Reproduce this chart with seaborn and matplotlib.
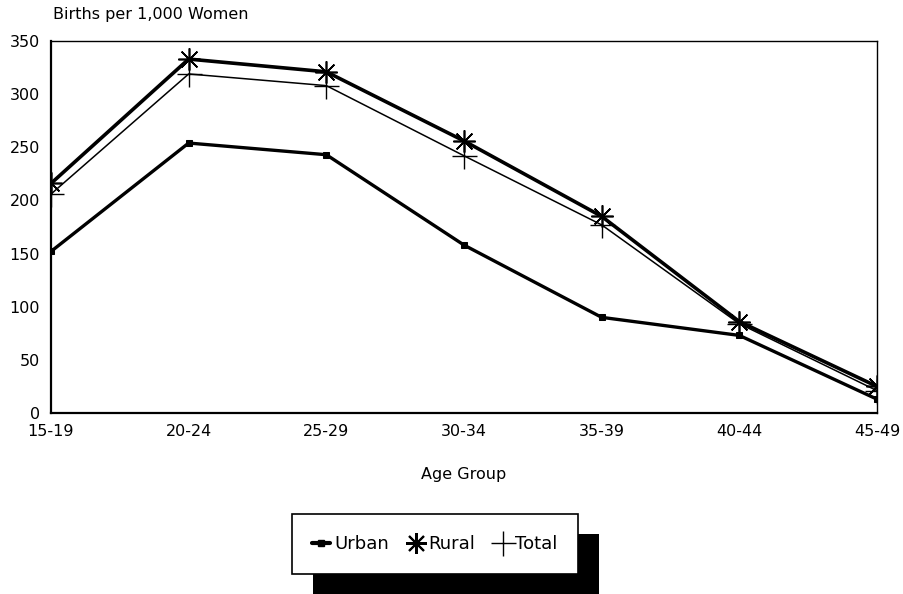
import pandas as pd
import matplotlib.pyplot as plt
import seaborn as sns
from matplotlib.lines import Line2D
from matplotlib.patches import Rectangle

# dados
grupos_idade = ['15-19', '20-24', '25-29', '30-34', '35-39', '40-44', '45-49']
urbano = [152, 254, 243, 158, 90, 73, 13]
rural = [216, 333, 321, 256, 185, 86, 25]
total = [206, 319, 308, 242, 177, 84, 21]

df = pd.DataFrame({'idade': grupos_idade, 'Urban': urbano, 'Rural': rural, 'Total': total})

sns.set_style('white')
plt.rcParams['font.family'] = ['DejaVu Sans']
plt.rcParams['text.color'] = 'black'
plt.rcParams['axes.labelcolor'] = 'black'

fig = plt.figure(figsize=(9.04, 5.94), dpi=100)
ax = fig.add_axes([51 / 904, 181 / 594, 826 / 904, 372 / 594])

estilos = {
    'Urban': dict(marker='s', markersize=5, linewidth=2.4),
    'Rural': dict(marker=(8, 2, 0), markersize=16, markeredgewidth=1.2, linewidth=2.6),
    'Total': dict(marker='+', markersize=18, markeredgewidth=1.0, linewidth=1.1),
}
for serie in ['Total', 'Urban', 'Rural']:
    sns.lineplot(data=df, x='idade', y=serie, ax=ax, color='black', sort=False,
                 markeredgecolor='black', markerfacecolor='black', **estilos[serie])

ax.set_xlim(0, len(grupos_idade) - 1)
ax.set_ylim(0, 350)
ax.set_yticks(range(0, 351, 50))
ax.set_xlabel('Age Group', fontsize=11.5, labelpad=20, color='black')
ax.set_ylabel('')
ax.tick_params(axis='both', labelsize=11.5, length=4, width=0.8, colors='black', pad=4)
ax.tick_params(axis='x', direction='out', pad=4)
ax.tick_params(axis='y', length=0, pad=8)

for lado, lw in [('left', 1.6), ('bottom', 1.6), ('top', 1.0), ('right', 1.0)]:
    ax.spines[lado].set_visible(True)
    ax.spines[lado].set_color('black')
    ax.spines[lado].set_linewidth(lw)

fig.text(53 / 904, 1 - 15 / 594, 'Births per 1,000 Women', ha='left', va='center',
         fontsize=11.5, color='black')

# legenda
handles = [
    Line2D([], [], color='black', linewidth=3, marker='s', markersize=4),
    Line2D([], [], color='black', linestyle='none', marker=(8, 2, 0), markersize=15, markeredgewidth=1.5),
    Line2D([], [], color='black', linestyle='none', marker='+', markersize=18, markeredgewidth=1.0),
]
leg = fig.legend(handles, ['Urban', 'Rural', 'Total'], loc='center',
                 bbox_to_anchor=(435 / 904, 1 - 544 / 594), ncol=3, fontsize=13,
                 frameon=True, fancybox=False, edgecolor='black', framealpha=1,
                 handlelength=1.0, handletextpad=0.2, columnspacing=1.0,
                 borderpad=1.15, borderaxespad=0)
leg.get_frame().set_linewidth(1.2)
for t in leg.get_texts():
    t.set_color('black')

# sombra preta da legenda
fig.canvas.draw()
bb = leg.get_window_extent().transformed(fig.transFigure.inverted())
dx, dy = 21 / 904, 20 / 594
fig.patches.append(Rectangle((bb.x0 + dx, bb.y0 - dy), bb.width, bb.height,
                             transform=fig.transFigure, facecolor='black',
                             edgecolor='none', zorder=1))

fig.savefig('out.png', dpi=100)
